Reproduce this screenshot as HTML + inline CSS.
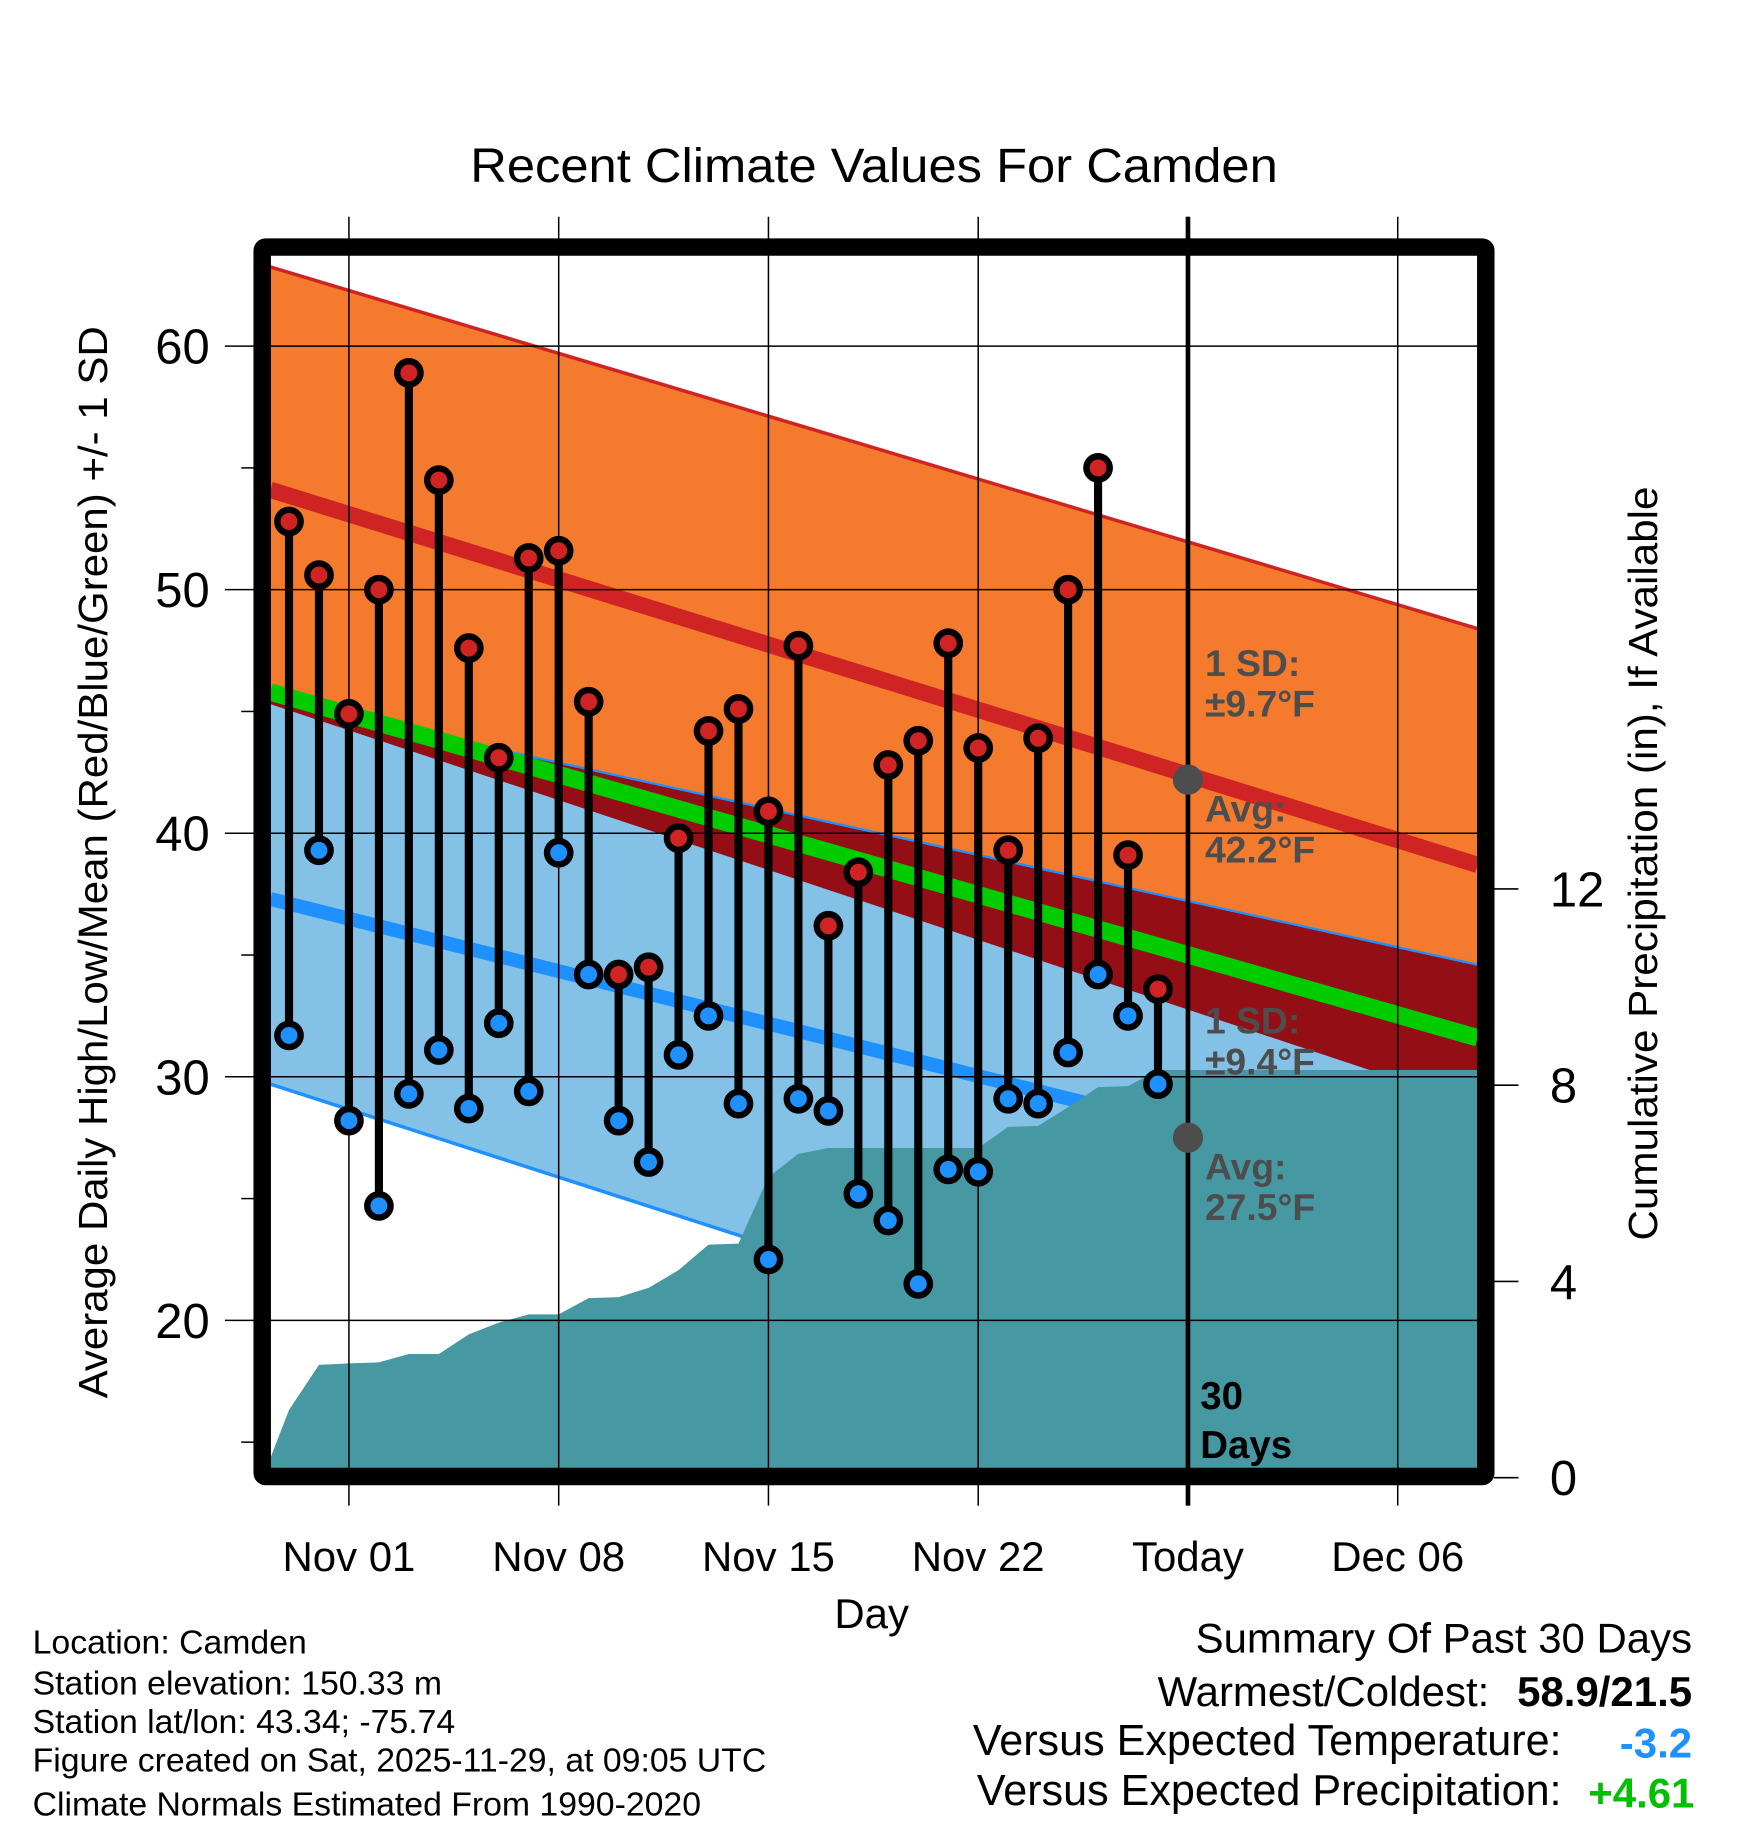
<!DOCTYPE html>
<html><head><meta charset="utf-8"><style>
html,body{margin:0;padding:0;background:#fff;}
svg{display:block;}
text{font-family:"Liberation Sans",Arial,sans-serif;}
</style></head><body>
<svg id="chart" width="1748" height="1828" viewBox="0 0 1500 1568.6" preserveAspectRatio="none" xmlns="http://www.w3.org/2000/svg">
<text x="750" y="156" font-size="41" text-anchor="middle" textLength="693" lengthAdjust="spacingAndGlyphs">Recent Climate Values For Camden</text>
<g id="plot"></g>
</svg>
<script>
const highs=[52.8,50.6,44.9,50.0,58.9,54.5,47.6,43.1,51.3,51.6,45.4,34.2,34.5,39.8,44.2,45.1,40.9,47.7,36.2,38.4,42.8,43.8,47.8,43.5,39.3,43.9,50.0,55.0,39.1,33.6];
const lows=[31.7,39.3,28.2,24.7,29.3,31.1,28.7,32.2,29.4,39.2,34.2,28.2,26.5,30.9,32.5,28.9,22.5,29.1,28.6,25.2,24.1,21.5,26.2,26.1,29.1,28.9,31.0,34.2,32.5,29.7];
const precip=[1.38,2.30,2.33,2.35,2.52,2.52,2.92,3.16,3.33,3.33,3.66,3.68,3.87,4.23,4.75,4.77,6.13,6.60,6.72,6.72,6.72,6.72,6.72,6.72,7.15,7.17,7.55,7.96,7.98,8.31];
const precipStart=0.4;
// normals at plot start / end (°F)
const highUpper=[63.25,48.4];
const highMean=[54.1,38.7];
const highLower=[45.3,28.8];
const lowUpper=[45.5,34.6];
const lowMean=[37.3,24.9];
const lowLower=[29.7,13.7];
const overallMean=[45.8,31.6];
const yTicks=[20,30,40,50,60];
const pTicks=[0,4,8,12];
const xTickDays=[2,9,16,23,30,37];
const xTickLabels=["Nov 01","Nov 08","Nov 15","Nov 22","Today","Dec 06"];

const NS="http://www.w3.org/2000/svg";
const g=document.getElementById('plot');
const L=232,R=1268,T=218,B=1260;
const x=d=>248+(d)*25.714;          // day index 0 = Oct 30
const y=t=>297+(60-t)*20.9;
const yp=p=>1268-p*42.1;
function el(tag,attrs,name,inter){const e=document.createElementNS(NS,tag);for(const k in attrs)e.setAttribute(k,attrs[k]);


g.appendChild(e);return e;}
function txt(s,attrs,name){const e=el('text',attrs,name,false);e.textContent=s;return e;}
function lineY(a,xx){return y(a[0]+(a[1]-a[0])*(xx-L)/(R-L));}
function band(top,bot,fill,name){el('polygon',{points:`${L},${lineY(top,L)} ${R},${lineY(top,R)} ${R},${lineY(bot,R)} ${L},${lineY(bot,L)}`,fill:fill},name,false);}
band(highUpper,highLower,'#f47a2e','high-sd-band');
band(lowUpper,lowLower,'#84c1e7','low-sd-band');
el('polygon',{points:`${L},${lineY(lowUpper,L)} ${R},${lineY(lowUpper,R)} ${R},${lineY(highLower,R)} ${L},${lineY(highLower,L)}`,fill:'#930e15'},'sd-overlap',false);
el('line',{x1:L,y1:lineY(highUpper,L),x2:R,y2:lineY(highUpper,R),stroke:'#d02424','stroke-width':3},'high-upper-line',false);
el('line',{x1:L,y1:lineY(lowUpper,L),x2:R,y2:lineY(lowUpper,R),stroke:'#1e90ff','stroke-width':2},'low-upper-line',false);
el('line',{x1:L,y1:lineY(lowLower,L),x2:R,y2:lineY(lowLower,R),stroke:'#1e90ff','stroke-width':3},'low-lower-line',false);
el('line',{x1:L,y1:lineY(highMean,L),x2:R,y2:lineY(highMean,R),stroke:'#d02424','stroke-width':14},'normal-high-line',false);
el('line',{x1:L,y1:lineY(lowMean,L),x2:R,y2:lineY(lowMean,R),stroke:'#1e90ff','stroke-width':12},'normal-low-line',false);
el('line',{x1:L,y1:lineY(overallMean,L),x2:R,y2:lineY(overallMean,R),stroke:'#00cc00','stroke-width':15},'normal-mean-line',false);
let pts=`${L},${B} ${L},${yp(precipStart)} `;
precip.forEach((p,i)=>{pts+=`${x(i)},${yp(p)} `;});
pts+=`${R},${yp(precip[precip.length-1])} ${R},${B}`;
el('polygon',{points:pts,fill:'#4699a3'},'precip-area',false);
yTicks.forEach(t=>{el('line',{x1:193,y1:y(t),x2:R,y2:y(t),stroke:'#000','stroke-width':1.3},'y-grid-'+t,false);
 txt(String(t),{x:180,y:y(t)+15,'font-size':42,'text-anchor':'end'},'y-tick-'+t);});
[15,25,35,45,55].forEach(t=>{el('line',{x1:207,y1:y(t),x2:218,y2:y(t),stroke:'#000','stroke-width':1.3},'y-minor-tick',false);});
xTickDays.forEach((d,i)=>{el('line',{x1:x(d),y1:186,x2:x(d),y2:1292,stroke:'#000','stroke-width':1.3},'x-grid-'+i,false);
 txt(xTickLabels[i],{x:x(d),y:1348,'font-size':36,'text-anchor':'middle'},'x-tick-label');});
pTicks.forEach(p=>{el('line',{x1:1282,y1:yp(p),x2:1303,y2:yp(p),stroke:'#000','stroke-width':1.3},'precip-tick',false);
 txt(String(p),{x:1330,y:yp(p)+15,'font-size':42},'precip-tick-label');});
el('line',{x1:x(30),y1:186,x2:x(30),y2:1292,stroke:'#000','stroke-width':4},'today-line',false);
highs.forEach((h,i)=>{el('line',{x1:x(i),y1:y(h),x2:x(i),y2:y(lows[i]),stroke:'#000','stroke-width':7},'temp-stem',false);});
highs.forEach((h,i)=>{el('circle',{cx:x(i),cy:y(h),r:10,fill:'#d02424',stroke:'#000','stroke-width':5.5},'high-marker',false);
 el('circle',{cx:x(i),cy:y(lows[i]),r:10,fill:'#1e90ff',stroke:'#000','stroke-width':5.5},'low-marker',false);});
el('circle',{cx:x(30),cy:y(42.2),r:13,fill:'#4d4d4d'},'high-avg-dot',false);
el('circle',{cx:x(30),cy:y(27.5),r:13,fill:'#4d4d4d'},'low-avg-dot',false);
const ann=[["1 SD:",580,'high-sd-label'],["±9.7°F",615,'high-sd-value'],["Avg:",705,'high-avg-label'],["42.2°F",740,'high-avg-value'],["1 SD:",887,'low-sd-label'],["±9.4°F",922,'low-sd-value'],["Avg:",1012,'low-avg-label'],["27.5°F",1047,'low-avg-value']];
ann.forEach(a=>txt(a[0],{x:1034,y:a[1],'font-size':32,'font-weight':'bold',fill:'#4d4d4d'},a[2]));
txt("30",{x:1030,y:1209,'font-size':33,'font-weight':'bold'},'days-count');
txt("Days",{x:1030,y:1251,'font-size':33,'font-weight':'bold'},'days-label');
el('rect',{x:225,y:212,width:1050,height:1055,fill:'none',stroke:'#000','stroke-width':15,rx:3},'plot-frame',false);
txt("Day",{x:748,y:1397,'font-size':36,'text-anchor':'middle'},'x-axis-title');
txt("Average Daily High/Low/Mean (Red/Blue/Green) +/- 1 SD",{x:0,y:0,'font-size':35,'text-anchor':'middle',textLength:920,lengthAdjust:'spacingAndGlyphs',transform:'translate(92,740) rotate(-90)'},'y-axis-title');
txt("Cumulative Precipitation (in), If Available",{x:0,y:0,'font-size':35,'text-anchor':'middle',textLength:647,lengthAdjust:'spacingAndGlyphs',transform:'translate(1422,741) rotate(-90)'},'precip-axis-title');
const foot=["Location: Camden","Station elevation: 150.33 m","Station lat/lon: 43.34; -75.74","Figure created on Sat, 2025-11-29, at 09:05 UTC","Climate Normals Estimated From 1990-2020"];
const fy=[1419,1454,1487,1520,1558];
foot.forEach((s,i)=>txt(s,{x:28,y:fy[i],'font-size':29},'footer-line'));
txt("Summary Of Past 30 Days",{x:1452,y:1418,'font-size':36,'text-anchor':'end'},'summary-title');
txt("Warmest/Coldest:",{x:1278,y:1464,'font-size':36,'text-anchor':'end'},'warmest-coldest-label');
txt("58.9/21.5",{x:1452,y:1464,'font-size':36,'font-weight':'bold','text-anchor':'end'},'warmest-coldest-value');
txt("Versus Expected Temperature:",{x:1340,y:1506,'font-size':37,'text-anchor':'end'},'temp-anomaly-label');
txt("-3.2",{x:1452,y:1508,'font-size':36,'font-weight':'bold','text-anchor':'end',fill:'#1e90ff'},'temp-anomaly-value');
txt("Versus Expected Precipitation:",{x:1340,y:1549,'font-size':37,'text-anchor':'end'},'precip-anomaly-label');
txt("+4.61",{x:1454,y:1551,'font-size':36,'font-weight':'bold','text-anchor':'end',fill:'#00c000'},'precip-anomaly-value');
</script>
</body></html>
